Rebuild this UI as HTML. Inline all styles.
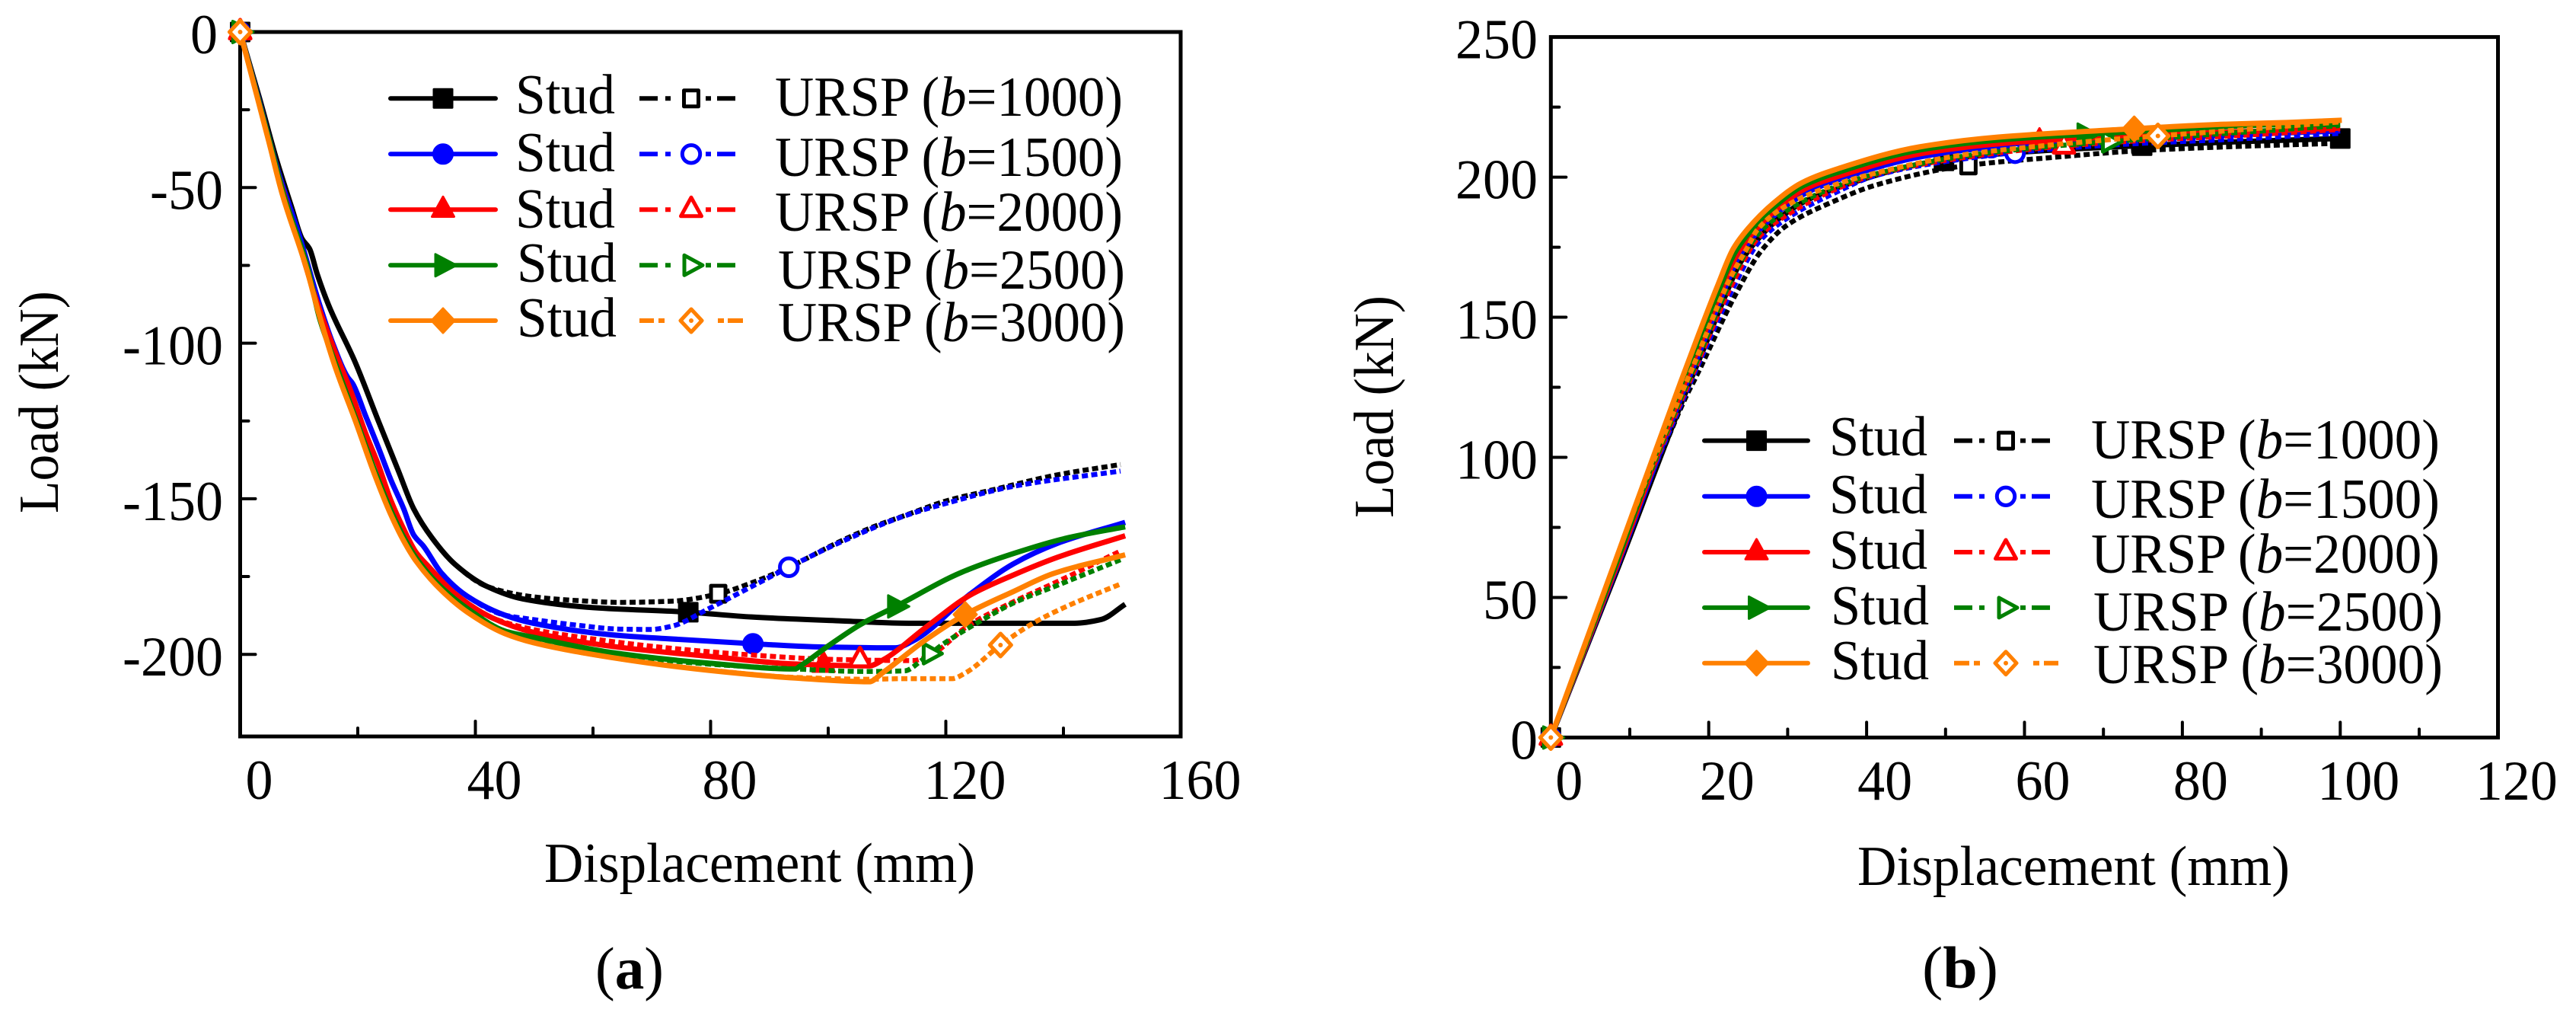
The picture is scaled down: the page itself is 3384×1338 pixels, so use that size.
<!DOCTYPE html>
<html lang="en">
<head>
<meta charset="utf-8">
<title>Load-displacement curves</title>
<style>
html,body{margin:0;padding:0;background:#fff;}
svg{display:block;}
text{font-family:"Liberation Serif","Times New Roman",serif;fill:#000;}
</style>
</head>
<body>
<svg id="figure" xmlns="http://www.w3.org/2000/svg" width="3384" height="1338" viewBox="0 0 3384 1338">
<rect x="0" y="0" width="3384" height="1338" fill="#fff"/>
<g id="panel-a"></g>
<g id="panel-b"></g>

<g>
<text transform="translate(76,528) rotate(-90)" text-anchor="middle" font-size="74" textLength="292" lengthAdjust="spacingAndGlyphs">Load (kN)</text>
<text x="715" y="1158" font-size="74" textLength="566" lengthAdjust="spacingAndGlyphs">Displacement (mm)</text>
<text x="782" y="1298" font-size="78" textLength="90" lengthAdjust="spacingAndGlyphs">(<tspan font-weight="bold">a</tspan>)</text>
</g>
<g>
<text transform="translate(1830,534) rotate(-90)" text-anchor="middle" font-size="74" textLength="292" lengthAdjust="spacingAndGlyphs">Load (kN)</text>
<text x="2440" y="1162" font-size="74" textLength="568" lengthAdjust="spacingAndGlyphs">Displacement (mm)</text>
<text x="2525" y="1297" font-size="78" textLength="100" lengthAdjust="spacingAndGlyphs">(<tspan font-weight="bold">b</tspan>)</text>
</g>

<g font-size="74">
<text x="677" y="149" textLength="131" lengthAdjust="spacingAndGlyphs">Stud</text>
<text x="677" y="225" textLength="131" lengthAdjust="spacingAndGlyphs">Stud</text>
<text x="677" y="299" textLength="131" lengthAdjust="spacingAndGlyphs">Stud</text>
<text x="679" y="370" textLength="131" lengthAdjust="spacingAndGlyphs">Stud</text>
<text x="679" y="442" textLength="131" lengthAdjust="spacingAndGlyphs">Stud</text>
<text x="1018" y="152" textLength="457" lengthAdjust="spacingAndGlyphs">URSP (<tspan font-style="italic">b</tspan>=1000)</text>
<text x="1018" y="231" textLength="457" lengthAdjust="spacingAndGlyphs">URSP (<tspan font-style="italic">b</tspan>=1500)</text>
<text x="1018" y="303" textLength="457" lengthAdjust="spacingAndGlyphs">URSP (<tspan font-style="italic">b</tspan>=2000)</text>
<text x="1022" y="379" textLength="456" lengthAdjust="spacingAndGlyphs">URSP (<tspan font-style="italic">b</tspan>=2500)</text>
<text x="1022" y="448" textLength="456" lengthAdjust="spacingAndGlyphs">URSP (<tspan font-style="italic">b</tspan>=3000)</text>
</g>
<g font-size="74">
<text x="2403" y="598" textLength="129" lengthAdjust="spacingAndGlyphs">Stud</text>
<text x="2403" y="674" textLength="129" lengthAdjust="spacingAndGlyphs">Stud</text>
<text x="2403" y="747" textLength="129" lengthAdjust="spacingAndGlyphs">Stud</text>
<text x="2405" y="820" textLength="129" lengthAdjust="spacingAndGlyphs">Stud</text>
<text x="2405" y="892" textLength="129" lengthAdjust="spacingAndGlyphs">Stud</text>
<text x="2747" y="602" textLength="458" lengthAdjust="spacingAndGlyphs">URSP (<tspan font-style="italic">b</tspan>=1000)</text>
<text x="2747" y="680" textLength="458" lengthAdjust="spacingAndGlyphs">URSP (<tspan font-style="italic">b</tspan>=1500)</text>
<text x="2747" y="752" textLength="458" lengthAdjust="spacingAndGlyphs">URSP (<tspan font-style="italic">b</tspan>=2000)</text>
<text x="2750" y="828" textLength="459" lengthAdjust="spacingAndGlyphs">URSP (<tspan font-style="italic">b</tspan>=2500)</text>
<text x="2750" y="897" textLength="459" lengthAdjust="spacingAndGlyphs">URSP (<tspan font-style="italic">b</tspan>=3000)</text>
</g>
</svg>
<script>
// ---------- Panel (a) data: [displacement, load] ----------
const aXTickLabels = ["0","40","80","120","160"];
const aXMajorTicks = [0,40,80,120,160];
const aXMinorTicks = [20,60,100,140];
const aYTickLabels = ["0","-50","-100","-150","-200"];
const aYMajorTicks = [0,-50,-100,-150,-200];
const aYMinorTicks = [-25,-75,-125,-175];

const aEarly1000 = [[0,0],[3.2,-20.7],[6.2,-41.1],[8.8,-56.6],[10.5,-66.4],[11.8,-69.7],[13.1,-77.8],[15,-87.6],[19.6,-106.3],[23.5,-125],[26.9,-141],[29.5,-153.2],[32.6,-162.5],[36.5,-171],[42,-178.2]];
const aEarly1500 = [[0,0],[3,-20.5],[6.5,-45],[10,-65],[13.5,-87.6],[15.7,-99.8],[18.3,-111],[19.1,-112.9],[21.3,-123.2],[23.5,-133.5],[25.6,-143.8],[27.8,-153.2],[29.5,-161.6],[31.2,-165.3],[34.2,-173.8],[38.6,-181.3],[45,-187.4]];
const aEarly2000 = [[0,0],[3,-21],[6.5,-46],[10,-68],[13.2,-87.6],[16.5,-104.5],[18.7,-114.8],[21.3,-128.8],[23.5,-139.1],[25.6,-150.4],[27.8,-159.7],[29.9,-167.2],[32.1,-171.9],[36.4,-180.3],[42.9,-188.3]];
const aEarly2500 = [[0,0],[5,-35],[7.3,-51.7],[11.5,-76],[13.5,-92],[16.3,-107],[19.8,-125],[23.2,-142.5],[25.8,-154.5],[28,-163],[30.1,-169.5],[34.4,-178.8],[38.8,-185.5],[45,-192.5]];
const aEarly3000 = [[0,0],[4.9,-35.4],[7.1,-51.7],[11.3,-76.1],[13.3,-90],[16.1,-107.3],[19.6,-125],[23,-142.9],[25.6,-155],[27.8,-163.5],[29.9,-170],[34.2,-179.4],[38.6,-186.4],[45,-193.3]];

const aStud1000Late = [[48.1,-182.2],[60.1,-185],[75.8,-186.4],[87,-188],[101.8,-189.2],[113.7,-190],[141.9,-190],[146.4,-188.8],[150.5,-183.9]];
const aUrsp1000Late = [[49.8,-181.5],[57.2,-182.7],[64.6,-183.3],[73.5,-182.9],[81,-180.7],[87,-177],[93.2,-172.1],[101.8,-163.9],[107.7,-159],[113,-155.4],[120.4,-150.5],[127.8,-147.2],[139,-142.3],[149.7,-139]];
const aStud1500Late = [[49.8,-190],[63.1,-193.7],[72,-194.9],[87.3,-196.6],[98.1,-197.6],[111.4,-197.9],[114.4,-195.7],[124.1,-180.7],[131.5,-170.9],[139,-164.3],[150.5,-157.6]];
const aUrsp1500Late = [[49.8,-188.8],[57.2,-190.6],[64.6,-191.9],[69.8,-192],[73.5,-190.9],[79.5,-185.5],[87,-178.2],[93.2,-172.1],[101.8,-164.2],[113,-155.5],[120.4,-151.3],[131.5,-146],[149.7,-141.1]];
const aStud2000Late = [[49.8,-192.9],[63.1,-197.4],[79.5,-200.6],[94.4,-203.1],[107,-203.7],[109.2,-201.9],[116.6,-191.3],[124.1,-181],[131.5,-174.5],[139,-168.8],[150.5,-161.9]];
const aUrsp2000Late = [[49.8,-192],[58.7,-194.7],[72,-197.8],[87,-200.2],[100.3,-201.6],[114.4,-202],[116.6,-201],[124.1,-190.4],[131.5,-183.1],[139,-176.6],[149.7,-166.8]];
const aStud2500Late = [[49.8,-194.5],[63.1,-199.4],[79.5,-202.8],[94.4,-204.7],[95.2,-203.8],[100,-197.3],[105.5,-190.4],[111.4,-184.7],[122.6,-173.7],[131.5,-167.6],[140.4,-162.7],[150.5,-159]];
const aUrsp2500Late = [[49.8,-194.9],[64.6,-200.2],[79.5,-203.1],[94.4,-204.7],[106.2,-205.5],[113,-205.3],[115.9,-201.9],[119.6,-196.6],[125.6,-189.6],[131.5,-183.5],[139,-177.8],[149.7,-169.6]];
const aStud3000Late = [[49.8,-196.2],[63.1,-201],[79.5,-205.1],[94.4,-207.6],[107,-208.8],[109.2,-206],[116.6,-195.3],[123.3,-187.2],[131.5,-179.8],[138.2,-174.1],[150.5,-168]];
const aUrsp3000Late = [[49.8,-196.2],[63.1,-201],[79.5,-205],[94.4,-207.4],[107,-208],[113,-207.8],[121.1,-207.8],[123.3,-206],[129.3,-197],[135.2,-189.6],[140.4,-184.7],[149.7,-177.4]];

const aStudMarkerX = [76.2,87.2,99.2,111.5,123.3];
const aUrspMarkerX = [81.3,93.3,105.4,117.4,129.3];

// ---------- Panel (b) data ----------
const bXTickLabels = ["0","20","40","60","80","100","120"];
const bXMajorTicks = [0,20,40,60,80,100,120];
const bXMinorTicks = [10,30,50,70,90,110];
const bYTickLabels = ["0","50","100","150","200","250"];
const bYMajorTicks = [0,50,100,150,200,250];
const bYMinorTicks = [25,75,125,175,225];

const bStud1000 = [[0,0],[8.5,60.5],[17.2,124],[19.4,139],[22,157],[23.9,169],[25.8,176.5],[29,185.5],[32.6,192],[37.6,197.5],[47.5,205],[57.5,208.5],[73,211],[85.5,212.5],[100,213.8]];
const bUrsp1000 = [[0,0],[5.3,38.7],[10.9,78.8],[17.1,121.5],[18.3,128.2],[23.4,158.1],[26.6,173.5],[29.8,182.6],[35.7,191.2],[41.2,197.2],[52.3,204],[63.4,207],[74.4,209.4],[85.5,210.8],[99.9,212.1]];
const bStud1500 = [[0,0],[8.4,61],[17,125],[19.2,140],[21.8,158.5],[23.7,171],[25.6,178.5],[28.8,187.5],[32.4,194.5],[37.4,200],[47.3,207.5],[57.3,211],[72.8,213.5],[85.5,215],[100,216.5]];
const bUrsp1500 = [[0,0],[5.2,38.7],[10.7,79.5],[16.8,121],[18.2,130],[19.2,136.4],[23.2,161],[26.4,177],[30.2,185.8],[35.7,194],[41.2,200.6],[52.3,206.5],[63.4,210],[74.4,212],[85.5,213.4],[99.9,215.6]];
const bStud2000 = [[0,0],[8.3,61],[16.8,125.5],[19,141],[21.6,159.5],[23.5,172],[25.4,179.5],[28.6,188.5],[32.2,195.8],[37.2,201],[47.1,208.5],[57.1,212],[72.6,214.6],[85.5,216],[100,217.5]];
const bUrsp2000 = [[0,0],[5.2,39],[10.6,80],[16.7,121.5],[18.1,130.5],[23.1,162.5],[26.3,178.5],[30.2,187],[35.7,195.2],[41.2,201],[52.3,207],[63.4,210.7],[74.4,213],[85.5,214.6],[99.9,217]];
const bStud2500 = [[0,0],[8.2,61.5],[16.6,126.5],[18.8,142],[21.4,160.5],[23.3,173],[25.2,180.5],[28.4,189.7],[32,197],[37,202.3],[46.9,209.8],[56.9,213.3],[72.4,216],[85.5,218],[93,218.8],[100,218.8]];
const bUrsp2500 = [[0,0],[5.1,38.6],[10.5,79.5],[16.6,122],[18,131],[23,164],[26.2,179.5],[30.2,188.6],[35.7,196.2],[41.2,201.2],[52.3,207.5],[63.4,211],[74.4,213.4],[85.5,215.6],[99.9,218.4]];
const bStud3000 = [[0,0],[8,61.7],[16.5,127.3],[18.6,143],[21.2,161.8],[23.1,174.4],[25,181.7],[28.2,190.7],[31.8,198],[36.8,203.4],[46.7,210.8],[56.7,214.3],[72.2,217],[85.5,218.9],[93.2,219.5],[100.2,220.3]];
const bUrsp3000 = [[0,0],[5.1,39],[10.4,80],[16.5,122.5],[17.9,131.7],[22.9,165],[25,175.4],[26.1,181],[30.2,190.4],[35.7,197],[41.2,201.5],[52.3,208],[63.4,211.5],[72.2,213.7],[85.5,216.5],[99.9,219.7]];

const bStudMarkerX = [49.8,55.8,61.9,67.7,73.9];
const bUrspMarkerX = [52.9,58.8,65,70.8,76.9];
const bBlackExtraMarkerX = [74.9,100];

// ---------- Shared ----------
const widthsB = ["1000","1500","2000","2500","3000"];
const colors = ["#000000","#0000ff","#ff0000","#008000","#ff8000"];
const SVGNS = "http://www.w3.org/2000/svg";

function addEl(parent, tag){
  const el = document.createElementNS(SVGNS, tag);
  parent.appendChild(el);
  return el;
}

function valueAt(series, x){
  for(let i=1;i<series.length;i++){
    if(x<=series[i][0]){
      const a=series[i-1], b=series[i];
      const t=(x-a[0])/((b[0]-a[0])||1);
      return a[1]+t*(b[1]-a[1]);
    }
  }
  return series[series.length-1][1];
}

function polyPath(pts){
  return "M"+pts.map(p=>p[0]+" "+p[1]).join("L")+"Z";
}

// Monotone cubic through the pixel points: smooth, no overshoot at kinks.
function smoothPath(pts){
  const n=pts.length, dx=[], sl=[], m=[];
  for(let i=0;i<n-1;i++){
    dx[i]=pts[i+1][0]-pts[i][0];
    sl[i]=(pts[i+1][1]-pts[i][1])/(dx[i]||1);
  }
  m[0]=sl[0];
  m[n-1]=sl[n-2];
  for(let i=1;i<n-1;i++){
    if(sl[i-1]*sl[i]<=0){ m[i]=0; }
    else {
      const w1=2*dx[i]+dx[i-1], w2=dx[i]+2*dx[i-1];
      m[i]=(w1+w2)/(w1/sl[i-1]+w2/sl[i]);
    }
  }
  let d="M"+pts[0][0]+" "+pts[0][1];
  for(let i=0;i<n-1;i++){
    const h=dx[i]/3;
    d+="C"+(pts[i][0]+h)+" "+(pts[i][1]+m[i]*h)+" "+(pts[i+1][0]-h)+" "+(pts[i+1][1]-m[i+1]*h)+" "+pts[i+1][0]+" "+pts[i+1][1];
  }
  return d;
}

function drawMarker(parent, kind, open, cx, cy, color, name){
  let d="";
  if(kind===0){
    const hw=open?9.5:12, hh=open?10.5:12;
    d=polyPath([[-hw,-hh],[hw,-hh],[hw,hh],[-hw,hh]]);
  } else if(kind===1){
    const r=open?11.7:12.5;
    d="M"+(-r)+" 0A"+r+" "+r+" 0 1 1 "+r+" 0A"+r+" "+r+" 0 1 1 "+(-r)+" 0Z";
  } else if(kind===2){
    d=open?polyPath([[0,-16],[13.5,8.5],[-13.5,8.5]]):polyPath([[0,-17],[14.5,9.2],[-14.5,9.2]]);
  } else if(kind===3){
    d=open?polyPath([[-9,-13],[15,0],[-9,13]]):polyPath([[-10,-14.5],[17.5,0],[-10,14.5]]);
  } else {
    d=open?polyPath([[0,-15],[14,0],[0,15],[-14,0]]):polyPath([[0,-16],[15,0],[0,16],[-15,0]]);
  }
  const m = addEl(parent,"path");
  
  
  m.setAttribute("d", d);
  m.setAttribute("transform", "translate("+cx+","+cy+")");
  m.setAttribute("fill", open?"#ffffff":color);
  m.setAttribute("stroke", color);
  m.setAttribute("stroke-width", open?5:3);
  m.setAttribute("stroke-linejoin", "round");
  if(open && kind===4){
    const dot = addEl(parent,"circle");
    
    
    dot.setAttribute("cx", cx);
    dot.setAttribute("cy", cy);
    dot.setAttribute("r", 3);
    dot.setAttribute("fill", color);
  }
}

function drawSeries(parent, series, xF, yF, color, dotted, kind, markerXs, name){
  const g = addEl(parent,"g");
  
  
  const line = addEl(g,"path");
  
  
  line.setAttribute("d", smoothPath(series.map(p=>[xF(p[0]),yF(p[1])])));
  line.setAttribute("fill", "none");
  line.setAttribute("stroke", color);
  line.setAttribute("stroke-width", dotted?6.5:7);
  line.setAttribute("stroke-linejoin", "round");
  if(dotted){
    line.setAttribute("stroke-dasharray", "8 4.5");
  }
  markerXs.forEach(function(mx,i){
    drawMarker(g, kind, dotted, xF(mx), yF(valueAt(series,mx)), color, name+"-marker-"+i);
  });
}

function labelLength(s){
  let w=0;
  for(const c of s){ w += (c==="-"?0.333:0.5)*72; }
  return w;
}

function drawAxes(parent, box, xF, yF, xMajor, xMinor, yMajor, yMinor, xLabels, yLabels, xLabelDx, xLabelY, yLabelX, yZeroX, prefix){
  const frame = addEl(parent,"rect");
  
  
  frame.setAttribute("x", box.left);
  frame.setAttribute("y", box.top);
  frame.setAttribute("width", box.right-box.left);
  frame.setAttribute("height", box.bottom-box.top);
  frame.setAttribute("fill", "none");
  frame.setAttribute("stroke", "#000");
  frame.setAttribute("stroke-width", 5);

  function tick(x1,y1,x2,y2,name){
    const t = addEl(parent,"line");
    
    
    t.setAttribute("x1", x1);
    t.setAttribute("y1", y1);
    t.setAttribute("x2", x2);
    t.setAttribute("y2", y2);
    t.setAttribute("stroke", "#000");
    t.setAttribute("stroke-width", 4);
    t.setAttribute("stroke-linecap", "round");
  }
  xMajor.forEach(v=>{ tick(xF(v),box.bottom,xF(v),box.bottom-20,prefix+"-x-major-tick"); });
  xMinor.forEach(v=>{ tick(xF(v),box.bottom,xF(v),box.bottom-11,prefix+"-x-minor-tick"); });
  yMajor.forEach(v=>{ tick(box.left,yF(v),box.left+20,yF(v),prefix+"-y-major-tick"); });
  yMinor.forEach(v=>{ tick(box.left,yF(v),box.left+11,yF(v),prefix+"-y-minor-tick"); });

  xMajor.forEach(function(v,i){
    const t = addEl(parent,"text");
    
    
    t.setAttribute("x", xF(v)+xLabelDx);
    t.setAttribute("y", xLabelY);
    t.setAttribute("text-anchor", "middle");
    t.setAttribute("font-size", 74);
    t.setAttribute("textLength", labelLength(xLabels[i]));
    t.setAttribute("lengthAdjust", "spacingAndGlyphs");
    t.textContent = xLabels[i];
  });
  yMajor.forEach(function(v,i){
    const t = addEl(parent,"text");
    
    
    t.setAttribute("x", v===0?yZeroX:yLabelX);
    t.setAttribute("y", yF(v)+28);
    t.setAttribute("text-anchor", "end");
    t.setAttribute("font-size", 74);
    t.setAttribute("textLength", labelLength(yLabels[i]));
    t.setAttribute("lengthAdjust", "spacingAndGlyphs");
    t.textContent = yLabels[i];
  });
}

function drawLegend(parent, layout, prefix){
  layout.rowY.forEach(function(y,i){
    const s = addEl(parent,"line");
    
    
    s.setAttribute("x1", layout.solidX1);
    s.setAttribute("y1", y);
    s.setAttribute("x2", layout.solidX2);
    s.setAttribute("y2", y);
    s.setAttribute("stroke", colors[i]);
    s.setAttribute("stroke-width", 6);
    s.setAttribute("stroke-linecap", "round");
    drawMarker(parent, i, false, layout.solidMark, y, colors[i], prefix+"-legend-stud-marker-"+widthsB[i]);
    const d = addEl(parent,"line");
    
    
    d.setAttribute("x1", layout.dashX1);
    d.setAttribute("y1", y);
    d.setAttribute("x2", i===4?layout.dashX2Last:layout.dashX2);
    d.setAttribute("y2", y);
    d.setAttribute("stroke", colors[i]);
    d.setAttribute("stroke-width", 6);
    d.setAttribute("stroke-dasharray", i===4?layout.dashLast:layout.dash);
    drawMarker(parent, i, true, layout.dashMark, y, colors[i], prefix+"-legend-ursp-marker-"+widthsB[i]);
  });
}

// ---------- Panel (a) ----------
const boxA = {left:315.5,right:1551,top:42,bottom:967};
const xA = v => 315.5 + v*7.725;
const yA = v => 42 - v*4.086;
const panelA = document.getElementById("panel-a");
const aStudSeries = [aEarly1000.concat(aStud1000Late),aEarly1500.concat(aStud1500Late),aEarly2000.concat(aStud2000Late),aEarly2500.concat(aStud2500Late),aEarly3000.concat(aStud3000Late)];
const aUrspSeries = [aEarly1000.concat(aUrsp1000Late),aEarly1500.concat(aUrsp1500Late),aEarly2000.concat(aUrsp2000Late),aEarly2500.concat(aUrsp2500Late),aEarly3000.concat(aUrsp3000Late)];
drawAxes(panelA, boxA, xA, yA, aXMajorTicks, aXMinorTicks, aYMajorTicks, aYMinorTicks, aXTickLabels, aYTickLabels, 25, 1049, 293, 286, "panel-a");
for(let i=0;i<5;i++){
  drawSeries(panelA, aStudSeries[i], xA, yA, colors[i], false, i, [0,aStudMarkerX[i]], "panel-a-stud-"+widthsB[i]);
  drawSeries(panelA, aUrspSeries[i], xA, yA, colors[i], true, i, [0,aUrspMarkerX[i]], "panel-a-ursp-"+widthsB[i]);
}
drawLegend(panelA, {rowY:[129.3,202.3,275.3,348.3,421],solidX1:513,solidX2:651,solidMark:582,dashX1:840,dashX2:966,dashX2Last:976,dashMark:908,dash:"24 10 7 46 7 8 24",dashLast:"19 6 8 70 8 5 20"}, "panel-a");

// ---------- Panel (b) ----------
const boxB = {left:2037.3,right:3281.5,top:48.6,bottom:968.4};
const xB = v => 2037.3 + v*10.37;
const yB = v => 968.4 - v*3.679;
const panelB = document.getElementById("panel-b");
const bStudSeries = [bStud1000,bStud1500,bStud2000,bStud2500,bStud3000];
const bUrspSeries = [bUrsp1000,bUrsp1500,bUrsp2000,bUrsp2500,bUrsp3000];
drawAxes(panelB, boxB, xB, yB, bXMajorTicks, bXMinorTicks, bYMajorTicks, bYMinorTicks, bXTickLabels, bYTickLabels, 24, 1050, 2020, 2020, "panel-b");
for(let i=0;i<5;i++){
  const studMarks = i===0 ? [0,bStudMarkerX[i]].concat(bBlackExtraMarkerX) : [0,bStudMarkerX[i]];
  drawSeries(panelB, bStudSeries[i], xB, yB, colors[i], false, i, studMarks, "panel-b-stud-"+widthsB[i]);
  drawSeries(panelB, bUrspSeries[i], xB, yB, colors[i], true, i, [0,bUrspMarkerX[i]], "panel-b-ursp-"+widthsB[i]);
}
drawLegend(panelB, {rowY:[578.6,651.8,725,797.9,870.7],solidX1:2239,solidX2:2375,solidMark:2307.5,dashX1:2567,dashX2:2693,dashX2Last:2704,dashMark:2635,dash:"24 9 7 47 7 8 24",dashLast:"20 6 8 70 8 6 20"}, "panel-b");
</script>
</body>
</html>
